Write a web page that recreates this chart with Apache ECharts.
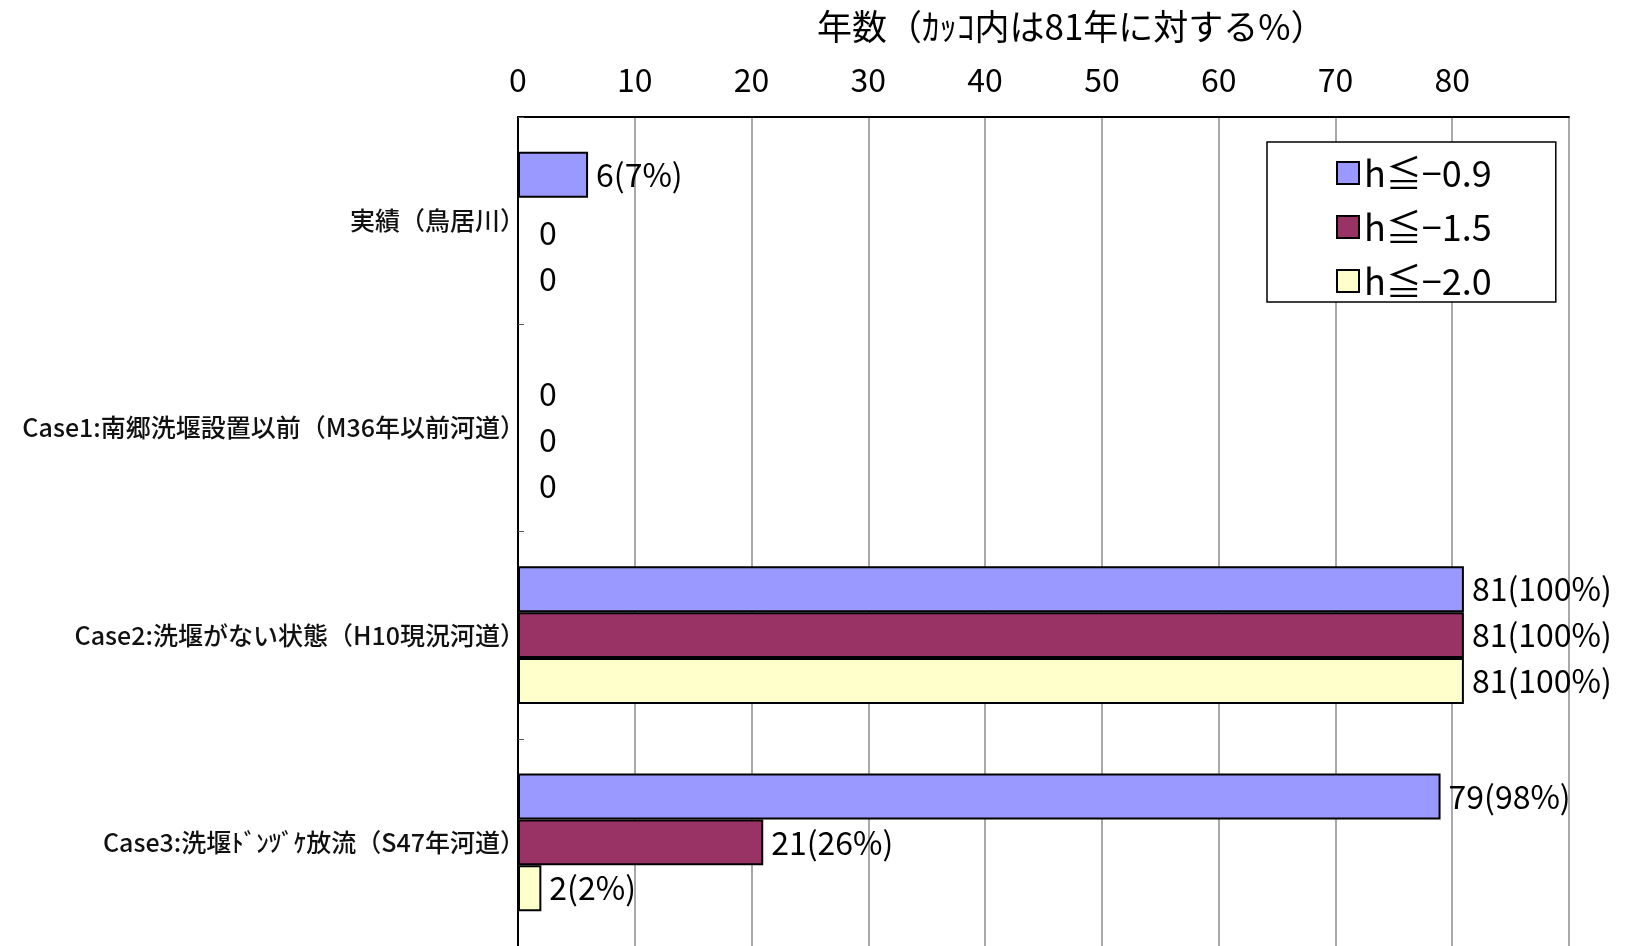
<!DOCTYPE html>
<html>
<head>
<meta charset="utf-8">
<script src="https://cdn.jsdelivr.net/npm/echarts@6/dist/echarts.min.js"></script>
<style>
html,body{margin:0;padding:0;background:#fff;}
#chart{width:1632px;height:946px;}
</style>
</head>
<body>
<div id="chart"></div>
<script>
// カテゴリ
var categories = ['実績（鳥居川）', 'Case1:南郷洗堰設置以前（M36年以前河道）', 'Case2:洗堰がない状態（H10現況河道）', 'Case3:洗堰ﾄﾞﾝﾂﾞｹ放流（S47年河道）'];
// 系列名
var seriesNames = ['h≦−0.9', 'h≦−1.5', 'h≦−2.0'];
// 年数
var valuesA = [6, 0, 81, 79];
var valuesB = [0, 0, 81, 21];
var valuesC = [0, 0, 81, 2];
var totalYears = 81;
var colors = ['#9999ff', '#993366', '#ffffcc'];
var FONT = '"Noto Sans CJK JP", "Noto Sans", sans-serif';

function makeSeries(name, data, color) {
    return {
        name: name,
        type: 'bar',
        data: data,
        barGap: '0%',
        barCategoryGap: '33.6%',
        itemStyle: {color: color, borderColor: '#000', borderWidth: 2},
        label: {
            show: true,
            position: 'right',
            distance: 8,
            color: '#000',
            fontSize: 32,
            fontFamily: FONT,
            formatter: function(p) {
                // 0の場合は少し右下にずらす
                if (p.value === 0) return '{z|0}';
                return p.value + '(' + Math.round(p.value / totalYears * 100) + '%)';
            },
            rich: {
                z: {fontSize: 32, fontFamily: FONT, color: '#000', padding: [24, 0, 0, 12]}
            }
        }
    };
}

var myChart = echarts.init(document.getElementById('chart'));
var option = {
    backgroundColor: '#fff',
    animation: false,
    title: {
        text: '年数（ｶｯｺ内は81年に対する%）',
        left: 812,
        top: 4,
        textStyle: {fontSize: 35, fontWeight: 'normal', color: '#000', fontFamily: FONT}
    },
    legend: {
        orient: 'vertical',
        left: 1267,
        top: 142,
        data: seriesNames,
        icon: 'rect',
        padding: [13, 64, 3, 69],
        itemGap: 18,
        itemWidth: 22,
        itemHeight: 22,
        backgroundColor: '#fff',
        borderColor: '#000',
        borderWidth: 1.5,
        borderRadius: 0,
        textStyle: {fontSize: 36, color: '#000', fontFamily: FONT}
    },
    grid: {left: 518, top: 117, width: 1051, height: 832},
    xAxis: {
        type: 'value',
        position: 'top',
        min: 0,
        max: 90,
        interval: 10,
        axisLine: {show: true, lineStyle: {color: '#000', width: 2}},
        axisTick: {show: false},
        axisLabel: {
            margin: 21,
            fontSize: 32,
            color: '#000',
            fontFamily: FONT,
            showMaxLabel: false
        },
        splitLine: {show: true, lineStyle: {color: '#8c8c8c', width: 1.5}}
    },
    yAxis: {
        type: 'category',
        inverse: true,
        data: categories,
        axisLine: {show: true, lineStyle: {color: '#000', width: 2}},
        axisTick: {show: true, inside: true, length: 6, lineStyle: {color: '#555'}},
        axisLabel: {margin: -7, fontSize: 25, fontWeight: 500, color: '#111', fontFamily: FONT}
    },
    series: [
        makeSeries(seriesNames[0], valuesA, colors[0]),
        makeSeries(seriesNames[1], valuesB, colors[1]),
        makeSeries(seriesNames[2], valuesC, colors[2])
    ]
};
myChart.setOption(option);
window.onresize = function() {
    myChart.resize();
};
</script>
</body>
</html>
